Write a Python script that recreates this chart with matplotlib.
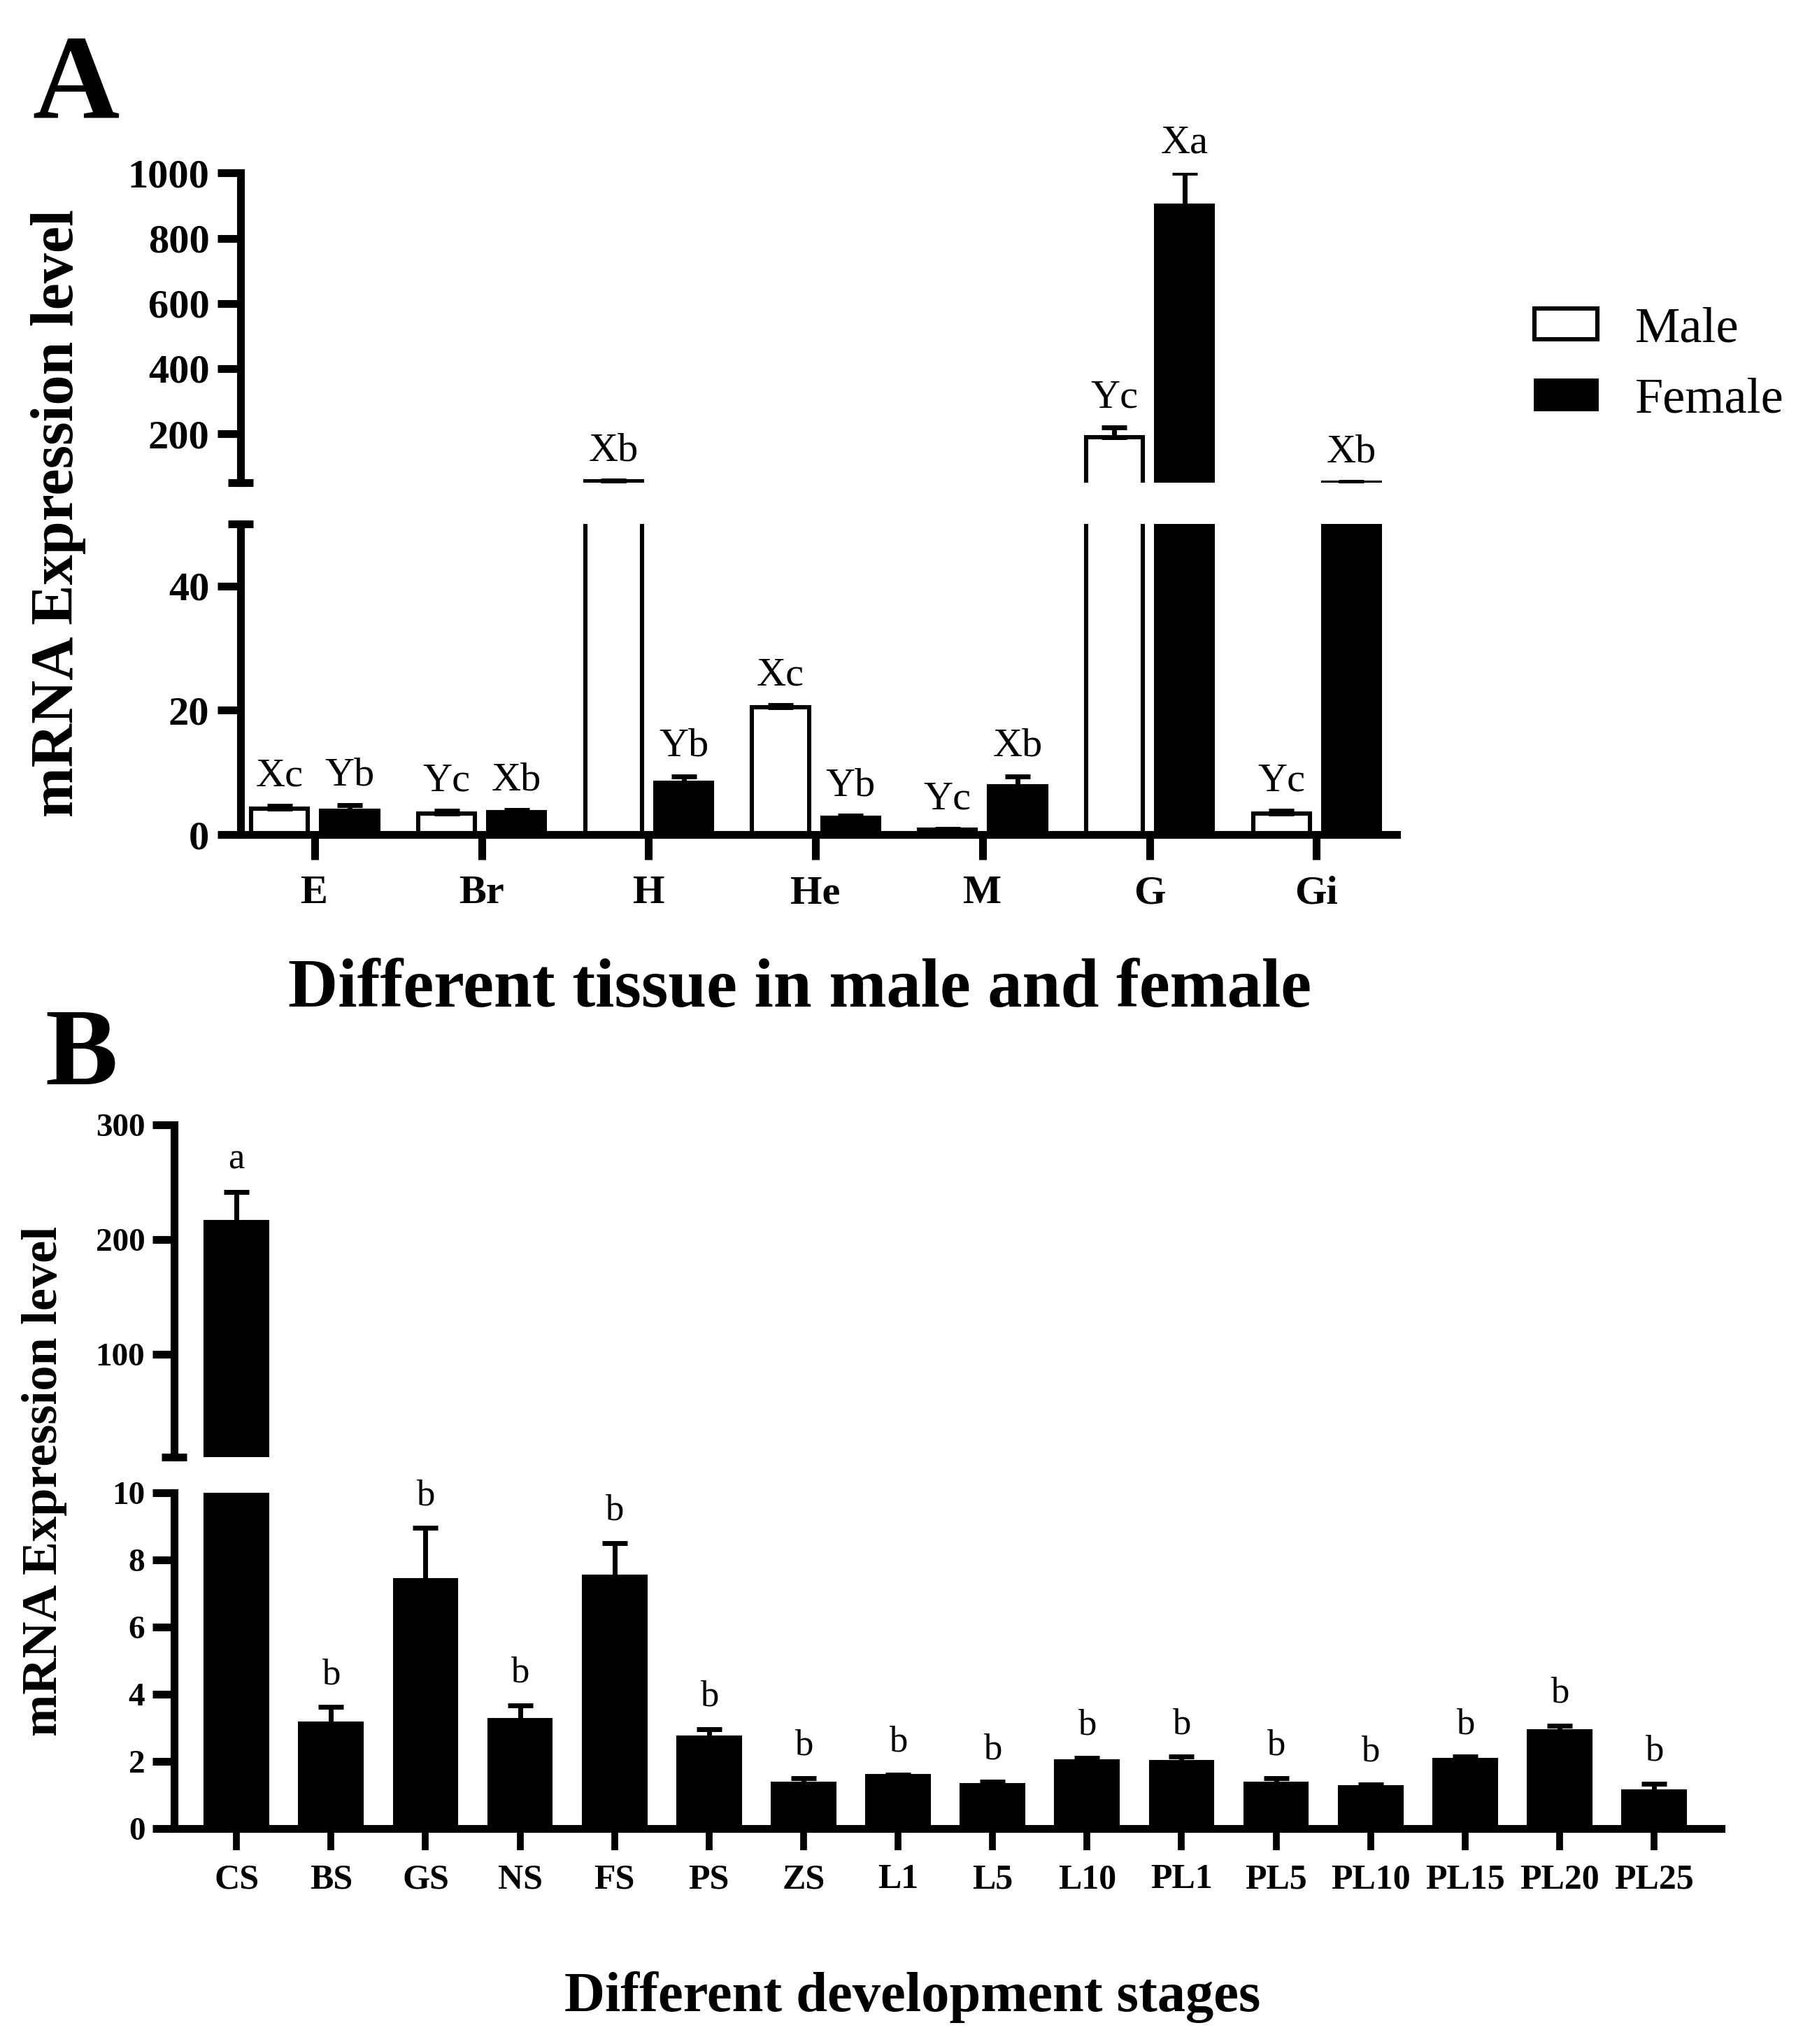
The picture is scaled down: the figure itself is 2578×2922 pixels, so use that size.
import numpy as np
import matplotlib
matplotlib.use('Agg')
import matplotlib.pyplot as plt
from matplotlib.patches import Patch
from matplotlib.ticker import FixedLocator

plt.rcParams['font.family'] = ['Liberation Serif', 'DejaVu Serif']

# panel A: tissues, male / female
tissues = ['E', 'Br', 'H', 'He', 'M', 'G', 'Gi']
male = [4.2, 3.4, 55, 20.5, 0.8, 190, 3.4]
male_err = [0.4, 0.4, 1.5, 0.3, 0.1, 30, 0.4]
female = [3.8, 3.6, 8.3, 2.7, 7.8, 900, 49.6]
female_err = [0.9, 0.3, 1.1, 0.3, 1.6, 100, 2.4]
male_sig = ['Xc', 'Yc', 'Xb', 'Xc', 'Yc', 'Yc', 'Yc']
female_sig = ['Yb', 'Xb', 'Yb', 'Yb', 'Xb', 'Xa', 'Xb']

# panel B: development stages
stages = ['CS', 'BS', 'GS', 'NS', 'FS', 'PS', 'ZS', 'L1', 'L5', 'L10',
          'PL1', 'PL5', 'PL10', 'PL15', 'PL20', 'PL25']
stage_val = [215, 3.12, 7.4, 3.22, 7.5, 2.7, 1.33, 1.57, 1.3, 2.0,
             1.98, 1.34, 1.23, 2.05, 2.9, 1.11]
stage_err = [26.5, 0.5, 1.55, 0.45, 1.0, 0.26, 0.17, 0.03, 0.09, 0.1,
             0.16, 0.16, 0.08, 0.09, 0.17, 0.22]
stage_sig = ['a'] + ['b'] * 15

SPINE = 4
EDGE = 2.2


def style(ax, show_x):
    ax.spines['top'].set_visible(False)
    ax.spines['right'].set_visible(False)
    ax.spines['left'].set_linewidth(SPINE)
    ax.spines['bottom'].set_linewidth(SPINE)
    if not show_x:
        ax.spines['bottom'].set_visible(False)
        ax.tick_params(axis='x', which='both', bottom=False, labelbottom=False)
    ax.patch.set_alpha(0)


def bars(ax_hi, ax_lo, brk, x, vals, errs, width, face):
    x = np.asarray(x)
    vals = np.asarray(vals, dtype=float)
    errs = np.asarray(errs, dtype=float)
    for ax in (ax_hi, ax_lo):
        ax.bar(x, vals, width, color=face, edgecolor='black', linewidth=EDGE, zorder=2)
    # error bars only in the segment that holds the top of the bar
    hi = vals + errs > brk
    for ax, sel in ((ax_hi, hi), (ax_lo, ~hi)):
        if sel.any():
            ax.errorbar(x[sel], vals[sel], yerr=[np.zeros(sel.sum()), errs[sel]], fmt='none',
                        ecolor='black', elinewidth=2.5, capsize=6.5, capthick=2.5, zorder=3)


def letters(ax_hi, ax_lo, brk, x, vals, errs, labels, size, pad):
    for xi, v, e, t in zip(x, vals, errs, labels):
        ax = ax_hi if v + e > brk else ax_lo
        ax.annotate(t, (xi, v + e), xytext=(0, pad), textcoords='offset points',
                    ha='center', va='bottom', fontsize=size)


def break_mark(ax, y):
    ax.yaxis.set_minor_locator(FixedLocator([y]))
    ax.tick_params(axis='y', which='minor', direction='inout', length=13, width=SPINE)


fig = plt.figure(figsize=(12.89, 14.61), dpi=200)

# ---------------- panel A ----------------
xa = np.arange(len(tissues))
a_hi = fig.add_axes([0.1334, 0.7639, 0.6412, 0.1514])
a_lo = fig.add_axes([0.1334, 0.5917, 0.6412, 0.1520])
for ax in (a_hi, a_lo):
    ax.set_xlim(-0.444, 6.48)
a_hi.set_ylim(50, 1000)
a_lo.set_ylim(0, 50)
style(a_hi, False)
style(a_lo, True)

bars(a_hi, a_lo, 50, xa - 0.21, male, male_err, 0.34, 'white')
bars(a_hi, a_lo, 50, xa + 0.21, female, female_err, 0.34, 'black')
letters(a_hi, a_lo, 50, xa - 0.21, male, male_err, male_sig, 21, 6)
letters(a_hi, a_lo, 50, xa + 0.21, female, female_err, female_sig, 21, 6)

a_hi.set_yticks([200, 400, 600, 800, 1000], ['200', '400', '600', '800', '1000'],
                fontweight='bold', fontsize=21)
a_lo.set_yticks([0, 20, 40], ['0', '20', '40'], fontweight='bold', fontsize=21)
a_lo.set_xticks(xa, tissues, fontweight='bold', fontsize=21)
for ax in (a_hi, a_lo):
    ax.tick_params(axis='y', which='major', length=12, width=SPINE, pad=4)
a_lo.tick_params(axis='x', length=13, width=SPINE, pad=8)
break_mark(a_hi, 50)
break_mark(a_lo, 50)

fig.legend(handles=[Patch(facecolor='white', edgecolor='black', linewidth=EDGE, label='Male'),
                    Patch(facecolor='black', edgecolor='black', label='Female')],
           loc='upper left', bbox_to_anchor=(0.851, 0.850), frameon=False, fontsize=26,
           handlelength=1.25, handleheight=0.55, handletextpad=0.75, labelspacing=0.5,
           borderpad=0, borderaxespad=0)

fig.text(0.018, 0.9425, 'A', fontsize=62, fontweight='bold', va='baseline')
fig.text(0.0325, 0.749, 'mRNA Expression level', rotation=90, ha='center', va='center',
         fontsize=31, fontweight='bold')
fig.text(0.4435, 0.5075, 'Different tissue in male and female', ha='center', va='baseline',
         fontsize=35.5, fontweight='bold')

# ---------------- panel B ----------------
xb = np.arange(len(stages))
b_hi = fig.add_axes([0.0966, 0.2871, 0.858, 0.1627])
b_lo = fig.add_axes([0.0966, 0.1054, 0.858, 0.1643])
for ax in (b_hi, b_lo):
    ax.set_xlim(-0.66, 15.71)
b_hi.set_ylim(10, 300)
b_lo.set_ylim(0, 10)
style(b_hi, False)
style(b_lo, True)

bars(b_hi, b_lo, 10, xb, stage_val, stage_err, 0.65, 'black')
letters(b_hi, b_lo, 10, xb, stage_val, stage_err, stage_sig, 19, 8)

b_hi.set_yticks([100, 200, 300], ['100', '200', '300'], fontweight='bold', fontsize=17)
b_lo.set_yticks([0, 2, 4, 6, 8, 10], ['0', '2', '4', '6', '8', '10'],
                fontweight='bold', fontsize=17)
b_lo.set_xticks(xb, stages, fontweight='bold', fontsize=18)
for ax in (b_hi, b_lo):
    ax.tick_params(axis='y', which='major', length=11, width=SPINE, pad=4)
b_lo.tick_params(axis='x', length=11, width=3.5, pad=7)
break_mark(b_hi, 10)
break_mark(b_lo, 10)

fig.text(0.025, 0.4695, 'B', fontsize=56, fontweight='bold', va='baseline')
fig.text(0.0245, 0.2755, 'mRNA Expression level', rotation=90, ha='center', va='center',
         fontsize=26, fontweight='bold')
fig.text(0.506, 0.016, 'Different development stages', ha='center', va='baseline',
         fontsize=29, fontweight='bold')

fig.savefig('out.png', dpi=200, facecolor='white')
